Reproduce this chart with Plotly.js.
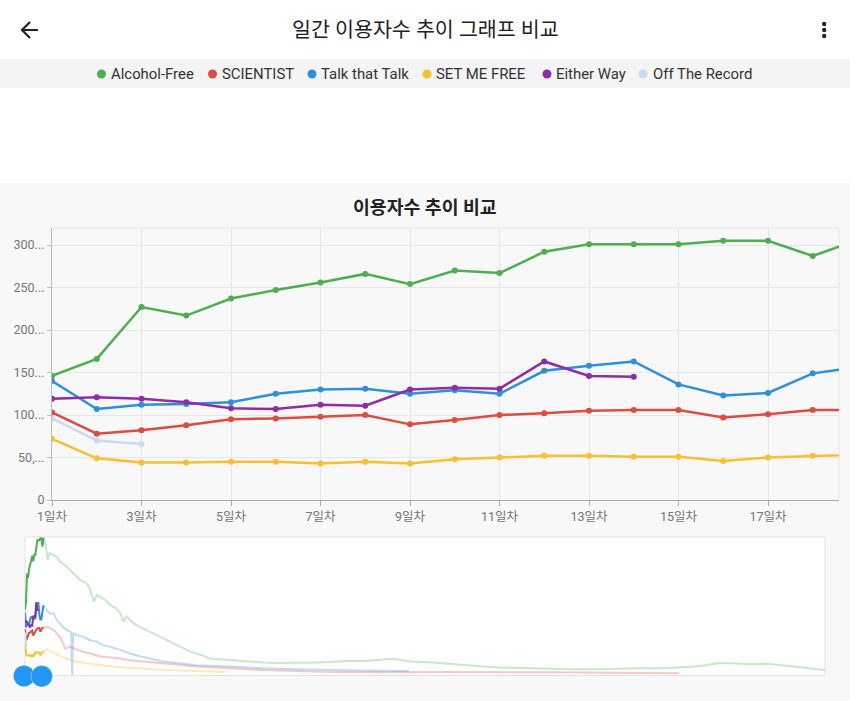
<!DOCTYPE html>
<html><head><meta charset="utf-8">
<script src="https://cdn.plot.ly/plotly-3.0.1.min.js"></script>
<style>html,body{margin:0;padding:0;background:#fff;}#chart{width:850px;height:701px;}</style>
</head><body><div id="chart"></div>
<script>
const W = 850, H = 701;
const FONT = "Roboto, 'Noto Sans CJK KR', sans-serif";

// ---- data ----
const seriesNames = ["Alcohol-Free", "SCIENTIST", "Talk that Talk", "SET ME FREE", "Either Way", "Off The Record"];
const seriesColors = ["#4CAF50", "#E04B3F", "#2B91DC", "#F6C12F", "#8E2DA8", "#C6DCF2"];
const fadedColors = ["rgba(76,175,80,0.3)", "rgba(224,75,63,0.3)", "rgba(43,145,220,0.3)", "rgba(246,193,47,0.34)", "rgba(142,45,168,0.3)", "rgba(198,220,242,0.5)"];

const days = [1,2,3,4,5,6,7,8,9,10,11,12,13,14,15,16,17,18,19];
const tickDays = [1,3,5,7,9,11,13,15,17];
const tickDayLabels = ["1일차","3일차","5일차","7일차","9일차","11일차","13일차","15일차","17일차"];
const yTickVals = [0,50,100,150,200,250,300];
const yTickLabels = ["0","50,...","100...","150...","200...","250...","300..."];

const alcoholFree   = [146,166,227,217,237,247,256,266,254,270,267,292,301,301,301,305,305,287,306];
const scientist     = [103,78,82,88,95,96,98,100,89,94,100,102,105,106,106,97,101,106,106];
const talkThatTalk  = [140,107,112,113,115,125,130,131,125,129,125,152,158,163,136,123,126,149,156];
const setMeFree     = [72,49,44,44,45,45,43,45,43,48,50,52,52,51,51,46,50,52,53];
const eitherWay     = [119,121,119,115,108,107,112,111,130,132,131,163,146,145];
const offTheRecord  = [96,70,66];

// later days (shown in the overview strip)
const alcoholFreeLaterDays = [21,23,25,29,32,35,38,42,45,48,51,55,61,64,68,71,77,84,90,94,97,100,107,113,123,133,142,152,162,172,181,191,201,217,234,250,266,282,299,315,331,347,360,377,399,432,464,497,530,562,594,627,643,660,676,692,708,725,741,757,781];
const alcoholFreeLater     = [294,257,272,268,264,253,249,242,234,227,220,212,205,194,164,179,172,157,149,138,120,131,116,108,97,86,75,64,53,46,38,36,34,31,29,28,28,29,30,32,32,34,37,31,29,23,18,16,14,14,16,16,18,21,27,27,25,26,22,18,12];
const scientistLaterDays   = [22,25,29,32,35,38,40,45,51,58,64,74,84,94,103,113,136,169,201,233,266,299,364,416,513,639];
const scientistLater       = [108,106,101,94,86,72,60,64,58,53,49,43,40,38,34,32,26,20,16,12,10,8,7,8,7,5];
const talkThatTalkLaterDays = [22,25,29,32,35,38,42,45,46,47,48,51,58,64,71,77,84,94,103,113,136,169,201,233,266,299,331,364,375];
const talkThatTalkLater     = [146,138,138,123,116,108,101,97,96,0,95,90,86,79,75,68,64,57,49,43,31,23,20,16,14,12,11,10,10];
const setMeFreeLaterDays   = [22,29,35,42,48,61,74,87,100,113,136,169,196];
const setMeFreeLater       = [58,51,43,38,33,27,23,20,17,16,12,10,8];

const mainVals  = [alcoholFree, scientist, talkThatTalk, setMeFree, eitherWay, offTheRecord];
const laterDays = [alcoholFreeLaterDays, scientistLaterDays, talkThatTalkLaterDays, setMeFreeLaterDays, [], []];
const laterVals = [alcoholFreeLater, scientistLater, talkThatTalkLater, setMeFreeLater, [], []];

// ---- geometry helpers (paper coords, margins are 0) ----
const px = v => v / W;
const py = v => 1 - v / H;

const traces = [];
// overview faded parts first
mainVals.forEach((vals, i) => {
  if (laterDays[i].length) {
    const n = vals.length;
    traces.push({
      type: 'scatter', mode: 'lines', xaxis: 'x2', yaxis: 'y2',
      x: days.slice(n - 2, n).concat(laterDays[i]),
      y: vals.slice(n - 2).concat(laterVals[i]),
      line: {color: fadedColors[i], width: 2}, showlegend: false, hoverinfo: 'skip'
    });
  }
});
// overview full-colour (selected window)
mainVals.forEach((vals, i) => {
  traces.push({
    type: 'scatter', mode: 'lines', xaxis: 'x2', yaxis: 'y2',
    x: days.slice(0, vals.length), y: vals,
    line: {color: seriesColors[i], width: 2}, showlegend: false, hoverinfo: 'skip'
  });
});
// main chart
mainVals.forEach((vals, i) => {
  traces.push({
    type: 'scatter', mode: 'lines+markers', xaxis: 'x', yaxis: 'y',
    name: seriesNames[i],
    x: days.slice(0, vals.length).concat(laterDays[i]),
    y: vals.concat(laterVals[i]),
    line: {color: seriesColors[i], width: 2.5},
    marker: {color: seriesColors[i], size: 6},
    showlegend: false
  });
});

const shapes = [
  // legend strip
  {type:'rect', xref:'paper', yref:'paper', x0:0, x1:1, y0:py(88), y1:py(59), fillcolor:'#f4f4f4', line:{width:0}, layer:'below'},
  // chart card
  {type:'rect', xref:'paper', yref:'paper', x0:0, x1:1, y0:0, y1:py(183), fillcolor:'#f8f8f8', line:{width:0}, layer:'below'},
  // overview panel
  {type:'rect', xref:'paper', yref:'paper', x0:px(25), x1:px(825), y0:py(675.5), y1:py(537), fillcolor:'#ffffff', line:{color:'#e2e2e2', width:1}, layer:'below'},
  // main plot top & right border
  {type:'line', xref:'paper', yref:'paper', x0:px(52), x1:px(839), y0:py(228), y1:py(228), line:{color:'#e6e6e6', width:1}, layer:'below'},
  {type:'line', xref:'paper', yref:'paper', x0:px(839), x1:px(839), y0:py(500), y1:py(228), line:{color:'#e6e6e6', width:1}, layer:'below'},
  // back arrow
  {type:'path', xref:'paper', yref:'paper', path:`M ${px(22)} ${py(30)} L ${px(38)} ${py(30)} M ${px(30)} ${py(22)} L ${px(22)} ${py(30)} L ${px(30)} ${py(38)}`, line:{color:'#222', width:2.2}},
  // overview handles
  {type:'circle', xref:'paper', yref:'paper', x0:px(13.5), x1:px(34.5), y0:py(686.5), y1:py(665.5), fillcolor:'#2196F3', line:{color:'#2196F3', width:0}},
  {type:'circle', xref:'paper', yref:'paper', x0:px(31), x1:px(52.5), y0:py(687), y1:py(665.5), fillcolor:'#2196F3', line:{color:'rgba(255,255,255,0.35)', width:1}}
];
// kebab menu dots
[24, 30, 36].forEach(cy => shapes.push({type:'circle', xref:'paper', yref:'paper', x0:px(822), x1:px(826.4), y0:py(cy+2.2), y1:py(cy-2.2), fillcolor:'#222', line:{width:0}}));

// legend (dots + labels)
const legendDotX = [101.5, 212.5, 312, 427, 547, 643];
const legendTextX = [111, 222, 321, 436, 555.5, 652.5];
const annotations = [
  {text:'일간 이용자수 추이 그래프 비교', xref:'paper', yref:'paper', x:0.5, y:py(30), xanchor:'center', yanchor:'middle', showarrow:false, font:{family:FONT, size:20.6, color:'#212121'}},
  {text:'<b>이용자수 추이 비교</b>', xref:'paper', yref:'paper', x:0.5, y:py(207), xanchor:'center', yanchor:'middle', showarrow:false, font:{family:FONT, size:18.3, color:'#222'}}
];
seriesNames.forEach((nm, i) => {
  shapes.push({type:'circle', xref:'paper', yref:'paper', x0:px(legendDotX[i]-4.5), x1:px(legendDotX[i]+4.5), y0:py(74+4.5), y1:py(74-4.5), fillcolor:seriesColors[i], line:{width:0}});
  annotations.push({text:nm, xref:'paper', yref:'paper', x:px(legendTextX[i]-2), y:py(74), xanchor:'left', yanchor:'middle', showarrow:false, font:{family:FONT, size:14.9, color:'#333'}});
});

const layout = {
  width: W, height: H,
  margin: {l:0, r:0, t:0, b:0},
  paper_bgcolor: '#ffffff', plot_bgcolor: 'rgba(0,0,0,0)',
  font: {family: FONT, size: 12, color: '#757575'},
  showlegend: false,
  xaxis: {
    domain: [px(52), px(839)], range: [1, 1 + (839 - 52) / 44.75],
    tickmode: 'array', tickvals: tickDays, ticktext: tickDayLabels,
    showgrid: true, gridcolor: '#e6e6e6', gridwidth: 1,
    showline: true, linecolor: '#aaaaaa', linewidth: 1,
    ticks: 'outside', ticklen: 5, tickcolor: '#aaaaaa',
    zeroline: false, tickfont: {size: 12.5, color: '#757575'}, fixedrange: true
  },
  yaxis: {
    domain: [py(500), py(228)], range: [0, 320],
    tickmode: 'array', tickvals: yTickVals, ticktext: yTickLabels,
    showgrid: true, gridcolor: '#e6e6e6', gridwidth: 1,
    showline: true, linecolor: '#bbbbbb', linewidth: 1,
    ticks: 'outside', ticklen: 4, tickcolor: '#bbbbbb',
    zeroline: false, tickfont: {size: 12.5, color: '#757575'}, fixedrange: true
  },
  xaxis2: {domain: [px(25), px(825)], range: [1, 781], visible: false, fixedrange: true, anchor: 'y2'},
  yaxis2: {domain: [py(675.5), py(537)], range: [0, 308], visible: false, fixedrange: true, anchor: 'x2'},
  shapes: shapes,
  annotations: annotations
};

Plotly.newPlot('chart', traces, layout, {displayModeBar: false, responsive: false});
</script>
</body></html>
